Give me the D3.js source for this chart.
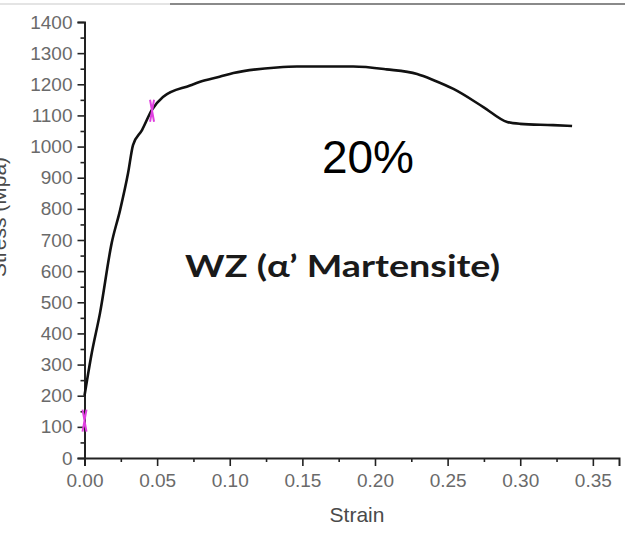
<!DOCTYPE html>
<html>
<head>
<meta charset="utf-8">
<script src="https://cdn.jsdelivr.net/npm/d3@7"></script>
<style>
  body { margin: 0; background: #fff; }
  svg { display: block; }
</style>
</head>
<body>
<svg></svg>
<script>
// stress-strain curve, values
const strain = [0, 0.005, 0.0107, 0.0187, 0.0245, 0.030, 0.0334, 0.0396, 0.0463, 0.054,
  0.0727, 0.0796, 0.093, 0.1025, 0.1325, 0.1463, 0.185, 0.208, 0.229, 0.240,
  0.254, 0.2746, 0.291, 0.300, 0.3226, 0.3357];
const stress = [200, 337, 466, 690, 796, 915, 1005, 1053, 1117, 1159,
  1196, 1208, 1224, 1236, 1254, 1257, 1257, 1248, 1233, 1214,
  1185, 1127, 1079, 1073, 1069, 1066];

// magenta markers
const markStrain = [0, 0.0465];
const markStress = [120, 1115];

const xTicks = [0, 0.05, 0.10, 0.15, 0.20, 0.25, 0.30, 0.35];
const yTicks = d3.range(0, 1401, 100);

const w = 625;
const h = 535;
const svg = d3.select("svg").attr("width", w).attr("height", h);

const xScale = d3.scaleLinear().domain([0, 0.368]).range([84.5, 619]);
const yScale = d3.scaleLinear().domain([0, 1400]).range([458, 22]);

// cropped-screenshot border at top
svg.append("line").attr("x1", 0).attr("x2", 170).attr("y1", 4).attr("y2", 4)
  .attr("stroke", "#e4e4e4").attr("stroke-width", 2);
svg.append("line").attr("x1", 170).attr("x2", 625).attr("y1", 4).attr("y2", 4)
  .attr("stroke", "#8a8a8a").attr("stroke-width", 2);

// minor ticks
svg.append("g").attr("class", "minor")
  .attr("transform", "translate(0,458)")
  .call(d3.axisBottom(xScale).tickValues(d3.range(0.025, 0.36, 0.05)).tickSize(4).tickFormat(""));
svg.append("g").attr("class", "minor")
  .attr("transform", "translate(84.5,0)")
  .call(d3.axisLeft(yScale).tickValues(d3.range(50, 1400, 100)).tickSize(4).tickFormat(""));

// x axis
svg.append("g").attr("class", "axis")
  .attr("transform", "translate(0,458)")
  .call(d3.axisBottom(xScale).tickValues(xTicks).tickSize(8).tickPadding(8)
    .tickFormat(d3.format(".2f")));

// y axis
svg.append("g").attr("class", "axis")
  .attr("transform", "translate(84.5,0)")
  .call(d3.axisLeft(yScale).tickValues(yTicks).tickSize(7).tickPadding(5)
    .tickFormat(d3.format("d")));

svg.selectAll(".axis path").attr("stroke", "#222").attr("stroke-width", 2);
svg.selectAll(".axis .tick line, .minor .tick line").attr("stroke", "#222").attr("stroke-width", 1.6);
svg.selectAll(".minor path").remove();
svg.selectAll(".axis text")
  .attr("fill", "#6a6a6a")
  .style("font-family", "Liberation Sans, Arial, sans-serif")
  .style("font-size", "19px");

// axis titles
svg.append("text")
  .attr("x", 357).attr("y", 522)
  .attr("text-anchor", "middle")
  .attr("fill", "#4a4a4a")
  .style("font-family", "Liberation Sans, Arial, sans-serif")
  .style("font-size", "21px")
  .text("Strain");

svg.append("text")
  .attr("transform", "translate(6,217) rotate(-90)")
  .attr("text-anchor", "middle")
  .attr("fill", "#4a4a4a")
  .style("font-family", "Liberation Sans, Arial, sans-serif")
  .style("font-size", "21px")
  .text("Stress (Mpa)");

// curve
const line = d3.line()
  .x((d, i) => xScale(strain[i]))
  .y((d, i) => yScale(stress[i]))
  .curve(d3.curveMonotoneX);

svg.append("path")
  .datum(stress)
  .attr("d", line)
  .attr("fill", "none")
  .attr("stroke", "#111")
  .attr("stroke-width", 2.6)
  .attr("stroke-linejoin", "round");

// markers
markStrain.forEach((s, i) => {
  const cx = xScale(s), cy = yScale(markStress[i]);
  svg.append("path")
    .attr("d", `M${cx - 2},${cy - 11}L${cx + 2},${cy + 11}M${cx + 2},${cy - 11}L${cx - 2},${cy + 11}`)
    .attr("stroke", "#e040e0")
    .attr("stroke-width", 2)
    .attr("fill", "none");
});

// annotations
svg.append("text")
  .attr("x", 368).attr("y", 173)
  .attr("text-anchor", "middle")
  .attr("fill", "#000")
  .style("font-family", "Liberation Sans, Arial, sans-serif")
  .style("font-size", "46px")
  .text("20%");

svg.append("text")
  .attr("x", 185).attr("y", 277)
  .attr("textLength", 315)
  .attr("lengthAdjust", "spacingAndGlyphs")
  .attr("fill", "#1a1a1a")
  .style("font-family", "Lato, Open Sans, sans-serif")
  .style("font-weight", "bold")
  .style("font-size", "31px")
  .text("WZ (\u03b1\u2019 Martensite)");
</script>
</body>
</html>
